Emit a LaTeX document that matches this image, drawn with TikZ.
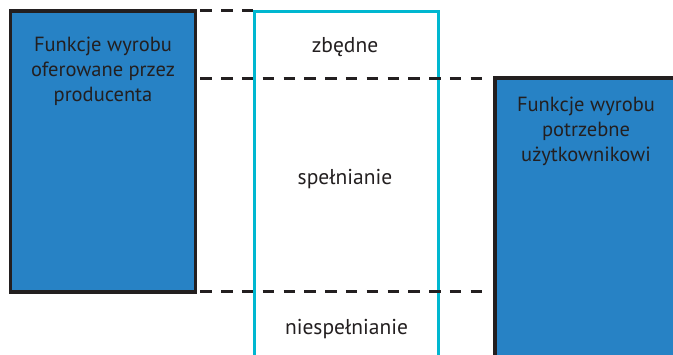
\documentclass[tikz,border=0pt]{standalone}
\usepackage{fontspec}
\setmainfont{PT Sans}
\definecolor{boxblue}{RGB}{39,130,197}
\definecolor{frameink}{RGB}{35,31,32}
\definecolor{bandcyan}{RGB}{0,183,208}
\begin{document}
\begin{tikzpicture}[x=1pt,y=-1pt,
  funcbox/.style={rectangle, draw=frameink, line width=3.5pt, fill=boxblue,
    inner sep=0pt, outer sep=0pt},
  bandbox/.style={rectangle, draw=bandcyan, line width=3pt,
    inner sep=0pt, outer sep=0pt},
  boxtext/.style={text=frameink, align=center, inner sep=0pt, anchor=base,
    font=\fontsize{20.5}{25}\selectfont},
  bandtext/.style={text=frameink, inner sep=0pt, anchor=base,
    font=\fontsize{21.5}{25}\selectfont},
  gap/.style={draw=frameink, line width=3pt,
    dash pattern=on 11.5pt off 9.3pt, dash phase=16pt}
]
\useasboundingbox (0,0) rectangle (673,355);
\begin{scope}
  \clip (0,0) rectangle (673,355);
  % offered functions (left) and needed functions (right)
  \node[funcbox, minimum width=185pt, minimum height=281pt] (offer) at (103,151.5) {};
  \node[funcbox, minimum width=185pt, minimum height=342pt] (need) at (587.5,249) {};
  % overlap band
  \node[bandbox, minimum width=184pt, minimum height=408pt] (band) at (346,216) {};
\end{scope}

% multi-line labels are anchored at the baseline of their last line
\node[boxtext] (offertext) at (103,101.7)
  {Funkcje wyrobu\\oferowane przez\\producenta};
\node[boxtext] (needtext) at (586,161.7)
  {Funkcje wyrobu\\potrzebne\\użytkownikowi};

\node[bandtext] (surplus) at (345,52.7) {zbędne};
\node[bandtext] (meet) at (345,185) {spełnianie};
\node[bandtext] (unmet) at (346.5,335) {niespełnianie};

% dashed level lines
\draw[gap] (offer.north east) -- (offer.north east -| band.west);
\draw[gap] ([yshift=-1pt]offer.east |- need.north west) -- ([xshift=-10pt,yshift=-1pt]need.north west);
\draw[gap] (offer.south east) -- ([xshift=-10pt]offer.south east -| need.west);
\end{tikzpicture}
\end{document}
